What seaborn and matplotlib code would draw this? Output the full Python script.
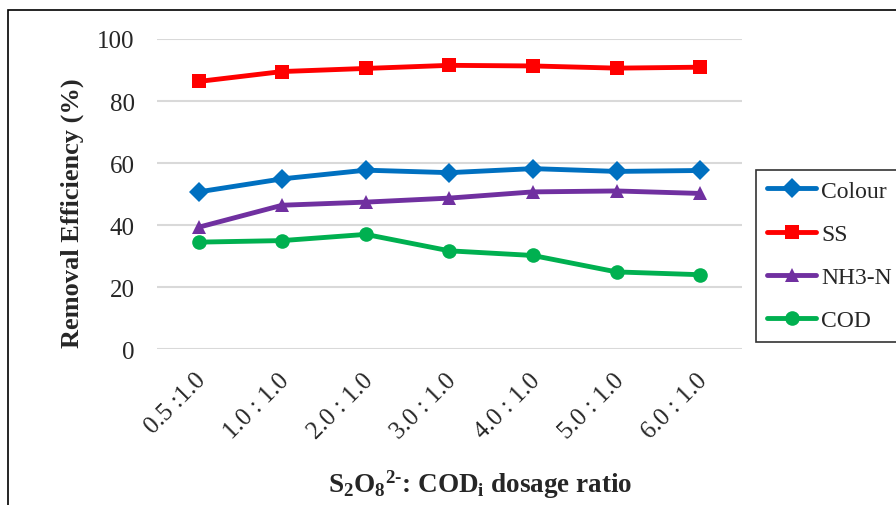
import matplotlib
matplotlib.use("agg")
import matplotlib.pyplot as plt
import matplotlib.transforms as mtransforms
import pandas as pd
import seaborn as sns
import numpy as np

ratios = ["0.5 :1.0", "1.0 : 1.0", "2.0 : 1.0", "3.0 : 1.0",
          "4.0 : 1.0", "5.0 : 1.0", "6.0 : 1.0"]
colour = [50.7, 54.9, 57.7, 56.9, 58.2, 57.3, 57.6]
ss = [86.3, 89.5, 90.5, 91.5, 91.3, 90.6, 90.9]
nh3n = [39.3, 46.4, 47.4, 48.7, 50.7, 51.0, 50.2]
cod = [34.5, 35.0, 37.0, 31.7, 30.2, 24.9, 24.0]

series = ["Colour", "SS", "NH3-N", "COD"]
palette = {"Colour": "#0070C0", "SS": "#FF0000", "NH3-N": "#7030A0", "COD": "#00B050"}
markers = {"Colour": "D", "SS": "s", "NH3-N": "^", "COD": "o"}

d = pd.concat([
    pd.DataFrame({"x": np.arange(len(ratios)), "value": v, "series": name})
    for name, v in zip(series, [colour, ss, nh3n, cod])
])

sns.set_style("white")
plt.rcParams["font.family"] = ["Liberation Serif", "DejaVu Serif"]
plt.rcParams["mathtext.fontset"] = "custom"
plt.rcParams["mathtext.rm"] = "Liberation Serif"
plt.rcParams["mathtext.bf"] = "Liberation Serif:bold"
plt.rcParams["mathtext.it"] = "Liberation Serif:italic"

fig = plt.figure(figsize=(8.96, 5.06), dpi=100)
ax = fig.add_axes([0.175, 0.308, 0.653, 0.613])

sns.lineplot(data=d, x="x", y="value", hue="series", style="series",
             hue_order=series, style_order=series, palette=palette,
             markers=markers, dashes=False, lw=3.5, markersize=10.5,
             markeredgewidth=0, ax=ax)

ax.set_xlim(-0.5, len(ratios) - 0.5)
ax.set_ylim(0, 100)
ax.set_yticks(range(0, 101, 20))
ax.set_xticks(range(len(ratios)))
ax.set_xticklabels(ratios, rotation=45, ha="right", rotation_mode="anchor")
ax.tick_params(axis="y", length=0, pad=16, labelsize=18)
ax.tick_params(axis="x", length=0, pad=14, labelsize=18)
shift = mtransforms.ScaledTranslation(-4 / 100, 0, fig.dpi_scale_trans)
for lab in ax.get_xticklabels():
    lab.set_transform(lab.get_transform() + shift)
ax.grid(axis="y", color="#D9D9D9", lw=1.5)
ax.set_axisbelow(True)
for s in ax.spines.values():
    s.set_visible(False)

ax.set_ylabel("Removal Efficiency (%)", fontsize=19, fontweight="bold")
ax.yaxis.set_label_coords(-0.125, 0.44)
ax.set_xlabel(r"S$_{\mathbf{2}}$O$_{\mathbf{8}}$$^{\mathbf{2" + "\u2010" + r"}}$: COD$_{\mathbf{i}}$ dosage ratio",
              fontsize=19.5, fontweight="bold")
ax.xaxis.set_label_coords(0.553, -0.38)

leg = ax.legend(loc="upper left", bbox_to_anchor=(0.844, 0.663),
                bbox_transform=fig.transFigure, fontsize=17, frameon=True,
                fancybox=False, edgecolor="black", handlelength=2.1,
                handletextpad=0.2, labelspacing=0.92, borderpad=0.45,
                borderaxespad=0)
leg.get_frame().set_linewidth(1.2)

fig.add_artist(plt.Rectangle((0.009, -0.1), 1.2, 1.079, fill=False,
                             ec="black", lw=1.2, transform=fig.transFigure))

plt.savefig("out.png", dpi=100)
